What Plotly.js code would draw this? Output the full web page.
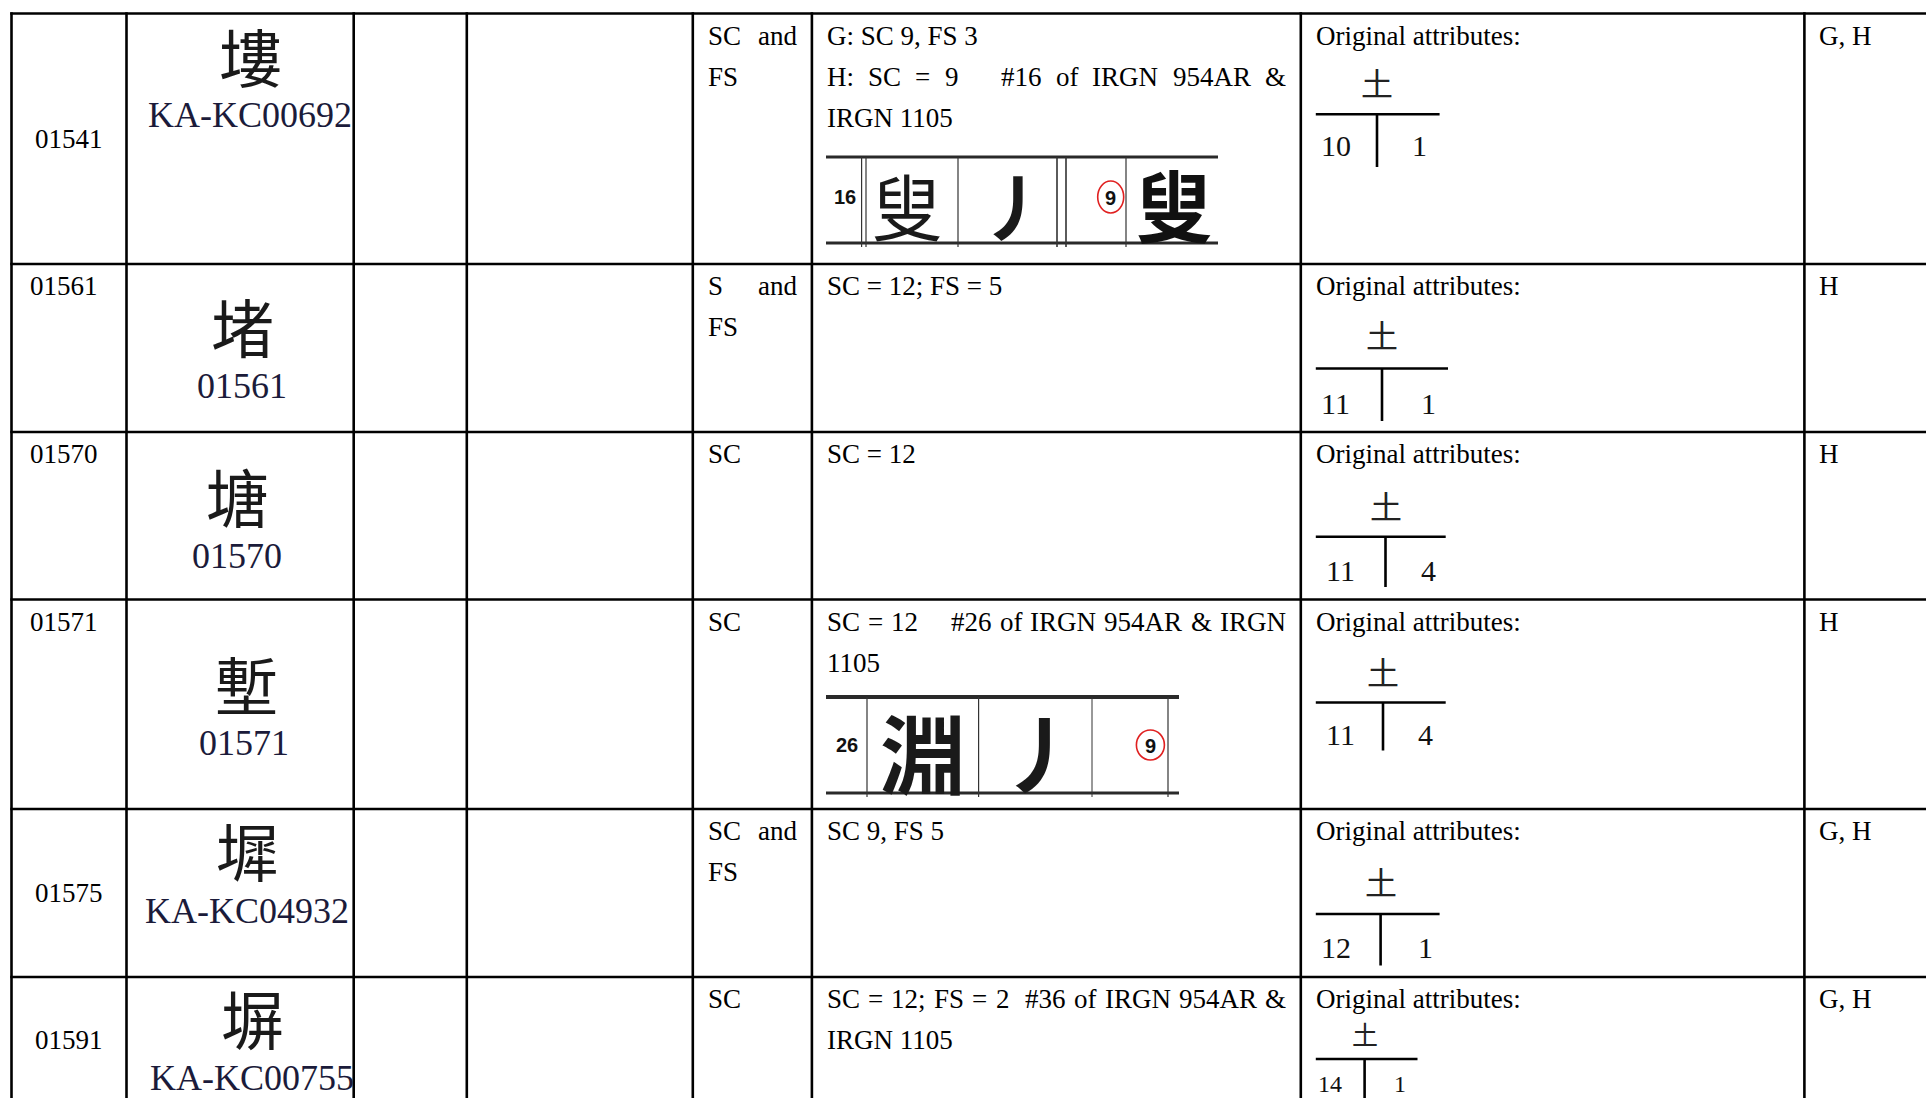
<!DOCTYPE html>
<html><head><meta charset="utf-8">
<script src="https://cdn.plot.ly/plotly-3.0.1.min.js"></script>
<style>html,body{margin:0;padding:0;background:#fff;overflow:hidden}</style>
</head><body><div id="chart" style="width:1926px;height:1098px"></div>
<script>
// ---------------- DATA ----------------
const rowIds = ['01541','01561','01570','01571','01575','01591'];
const glyphs = ['塿','堵','塘','塹','墀','塀'];
const glyphLabels = ['KA-KC00692','01561','01570','01571','KA-KC04932','KA-KC00755'];
const attributeTypes = [['SC and','FS'],['S and','FS'],['SC'],['SC'],['SC and','FS'],['SC']];
const notes = [
  [['G: SC 9, FS 3'], ['H: SC = 9   #16 of IRGN 954AR &','IRGN 1105']],
  [['SC = 12; FS = 5']],
  [['SC = 12']],
  [['SC = 12    #26 of IRGN 954AR & IRGN','1105']],
  [['SC 9, FS 5']],
  [['SC = 12; FS = 2  #36 of IRGN 954AR &','IRGN 1105']]
];
const attrHeading = 'Original attributes:';
const radicals = ['土','土','土','土','土','土'];
const residualStrokes = ['10','11','11','11','12','14'];
const firstStrokes = ['1','1','4','4','1','1'];
const sources = ['G, H','H','H','H','G, H','G, H'];
const irgnNumbers = ['16','26'];
const irgnComponents = ['叟','淵'];
const irgnStrokes = ['丿','丿'];
const irgnCircled = ['9','9'];
const irgnResults = ['叟',''];

// ---------------- LAYOUT ----------------
const W = 1926, H = 1098;
const SERIF = '"Liberation Serif", "Times New Roman", serif';
const SANS = '"Liberation Sans", Arial, sans-serif';
const CJK = '"Noto Sans CJK TC", "Noto Sans CJK SC", sans-serif';
const colX = [11.5,126.5,353.7,466.8,692.8,811.9,1300.8,1804.4];
const rowY = [13.5,264,432,599.5,809,977];
const PAD = 15, FIRST = 22, LINE = 41, BODY = 27;
const idPlace = [['c',125.5],['l',22],['l',22],['l',22],['c',84],['c',63]];
// glyph x, glyph dy, label x, label dy
const glyphPlace = [[250,41,250,101],[242,60,242,122],[237,62,237,124],[246,82.5,244,143.5],[247,39,247,102],[252,39,252,101]];
// radX, radDy, hDy, hRight, vBottomDy, numDy, leftX, rightX, fontScale
const treePlace = [
  [1377,68.5,100.8,1439.6,153.5,132,1336,1419,1],
  [1382,70,104.5,1448,157,139,1335,1428.5,1],
  [1385.5,73,104.8,1445.7,155,138,1340,1428.5,1],
  [1383,71,103,1445.7,151,135,1340,1425,1],
  [1380.6,72,105,1439.6,156.5,138,1336,1425,1],
  [1364.6,56,82,1417.5,140,106.5,1330,1400,0.8]
];
const scanRows = [0,3];
const scanGeom = [
  {x0:826,x1:1218,top:157,bot:243,topW:3,botW:3,
   vl:[[861.6,1.2],[866,1.2],[958,1.2],[1057,1.6],[1066,1.6],[1126,1.2]],
   num:[845,197], comp:[907,203,72,400], stroke:[1015,203,72], circ:[1110.7,197,13,16], res:[1174,203,78]},
  {x0:826,x1:1179,top:697,bot:793,topW:4,botW:3,
   vl:[[867,1.2],[978.6,1.2],[1092,1],[1168,1.2]],
   num:[847,745], comp:[923,750,86,700], stroke:[1041,750,84], circ:[1150.4,745,14,15], res:null}
];

// ---------------- BUILD ----------------
const ann = [], shp = [];
const ctx = document.createElement('canvas').getContext('2d');
function measure(t, size, fam){ ctx.font = size + 'px ' + fam; return ctx.measureText(t).width; }
function txt(x, y, t, o){
  o = o || {};
  ann.push({x:x, y:y, xref:'x', yref:'y', text:t, showarrow:false,
    xanchor:o.xa || 'left', yanchor:'middle', borderpad:0, borderwidth:0,
    font:{family:o.fam || SERIF, size:o.size || BODY, color:o.color || '#000', weight:o.weight || 400}});
}
function seg(x0,y0,x1,y1,w,c){
  shp.push({type:'line', xref:'x', yref:'y', x0:x0, y0:y0, x1:x1, y1:y1, line:{color:c || '#000', width:w}});
}
function justify(line, x0, x1, y){
  const parts = line.split(/( +)/);
  const words = parts.filter((p,i)=>i%2===0);
  const gaps = parts.filter((p,i)=>i%2===1).map(s=>s.length);
  const widths = words.map(w=>measure(w, BODY, '"Liberation Serif"'));
  const units = gaps.reduce((a,b)=>a+b,0);
  const unit = units ? (x1 - x0 - widths.reduce((a,b)=>a+b,0)) / units : 0;
  let x = x0;
  words.forEach((w,i)=>{ txt(x, y, w); x += widths[i] + (i < gaps.length ? gaps[i]*unit : 0); });
}
function paragraphs(paras, x0, x1, top){
  let li = 0;
  paras.forEach(p=>{
    p.forEach((l,k)=>{
      const y = top + FIRST + li*LINE;
      if (k < p.length-1) justify(l, x0, x1, y); else txt(x0, y, l);
      li++;
    });
  });
}

// grid
rowY.forEach(y=>seg(colX[0]-1.25, y, W+20, y, 2.6));
colX.forEach(x=>seg(x, rowY[0]-1.25, x, H+20, 2.6));

rowIds.forEach((id,i)=>{
  const top = rowY[i];
  // column 1
  const ip = idPlace[i];
  if (ip[0]==='c') txt((colX[0]+colX[1])/2, top+ip[1], id, {xa:'center'});
  else txt(colX[0]+PAD+3, top+ip[1], id);
  // column 2
  const gp = glyphPlace[i];
  txt(gp[0], top+gp[1], glyphs[i], {xa:'center', fam:CJK, size:63, color:'#1a1a1a'});
  txt(gp[2], top+gp[3], glyphLabels[i], {xa:'center', size:36, color:'#1b1b3a'});
  // column 5
  paragraphs([attributeTypes[i]], colX[4]+PAD, colX[5]-PAD, top);
  // column 6
  paragraphs(notes[i], colX[5]+PAD, colX[6]-PAD, top);
  // column 7
  txt(colX[6]+PAD, top+FIRST, attrHeading);
  const tp = treePlace[i];
  txt(tp[0], top+tp[1], radicals[i], {xa:'center', fam:CJK, size:Math.round(32*tp[8]), color:'#222'});
  seg(colX[6]+PAD, top+tp[2], tp[3], top+tp[2], 2.6);
  seg(tp[0], top+tp[2], tp[0], top+tp[4], 2.6);
  txt(tp[6], top+tp[5], residualStrokes[i], {xa:'center', size:Math.round(30*tp[8]), color:'#111'});
  txt(tp[7], top+tp[5], firstStrokes[i], {xa:'center', size:Math.round(30*tp[8]), color:'#111'});
  // column 8
  txt(colX[7]+PAD, top+FIRST, sources[i]);
});

// IRGN excerpts
scanRows.forEach((r,k)=>{
  const g = scanGeom[k];
  seg(g.x0, g.top, g.x1, g.top, g.topW, '#2a2a2a');
  seg(g.x0, g.bot, g.x1, g.bot, g.botW, '#2a2a2a');
  g.vl.forEach(v=>seg(v[0], g.top, v[0], g.bot+4, v[1], '#333'));
  txt(g.num[0], g.num[1], irgnNumbers[k], {xa:'center', fam:SANS, size:20, weight:700, color:'#111'});
  txt(g.comp[0], g.comp[1], irgnComponents[k], {xa:'center', fam:CJK, size:g.comp[2], weight:g.comp[3], color:'#1a1a1a'});
  txt(g.stroke[0], g.stroke[1], irgnStrokes[k], {xa:'center', fam:CJK, size:g.stroke[2], weight:700, color:'#1a1a1a'});
  const c = g.circ;
  shp.push({type:'circle', xref:'x', yref:'y', x0:c[0]-c[2], x1:c[0]+c[2], y0:c[1]-c[3], y1:c[1]+c[3], line:{color:'#e02020', width:1.6}});
  txt(c[0], c[1]+1, irgnCircled[k], {xa:'center', fam:SANS, size:20, weight:700, color:'#111'});
  if (g.res && irgnResults[k]) txt(g.res[0], g.res[1], irgnResults[k], {xa:'center', fam:CJK, size:g.res[2], weight:700, color:'#111'});
});

const layout = {
  width: W, height: H, margin:{l:0,r:0,t:0,b:0,pad:0},
  paper_bgcolor:'#fff', plot_bgcolor:'#fff', showlegend:false, hovermode:false,
  xaxis:{range:[0,W], visible:false, fixedrange:true},
  yaxis:{range:[H,0], visible:false, fixedrange:true},
  shapes: shp, annotations: ann
};
Plotly.newPlot('chart', [{type:'scatter', x:[0], y:[0], mode:'markers', marker:{opacity:0}, hoverinfo:'skip'}], layout, {staticPlot:true, displayModeBar:false});
</script></body></html>
